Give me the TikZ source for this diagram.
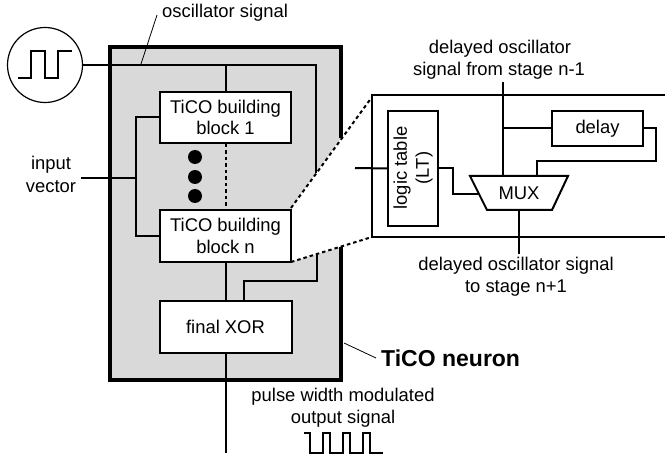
\documentclass[tikz,border=0pt]{standalone}
\usepackage{fontspec}
\setmainfont{Liberation Sans}
\begin{document}
\begin{tikzpicture}[x=1pt,y=-1pt,
  wire/.style={line width=2pt,line cap=butt,line join=miter},
  leader/.style={line width=0.8pt},
  dotline/.style={line width=2pt,dash pattern=on 3.5pt off 3pt},
  blockbox/.style={draw,fill=white,line width=2pt,inner sep=0pt,align=center,font=\lbl},
  lab/.style={inner sep=0pt,align=center,font=\lbl},
  dotmark/.style={circle,fill=black,inner sep=0pt,minimum size=14pt}]
\newcommand{\lbl}{\fontsize{18.4}{22}\selectfont}
\useasboundingbox (0,0) rectangle (665,457);
% neuron body
\coordinate (nTL) at (110,47);
\coordinate (nTR) at (341,47);
\coordinate (nRa) at (341,138);
\coordinate (nRb) at (341,247);
\coordinate (nBR) at (341,380);
\coordinate (nBL) at (110,380);
\coordinate (zA) at (291,208);
\coordinate (zB) at (291,262);
\coordinate (zC) at (372,97);
\coordinate (zD) at (372,237);
\fill[black!15] (nTL) -- (nTR) -- (nRa) -- (zA) -- (zB) -- (nRb) -- (nBR) -- (nBL) -- cycle;
\draw[line width=4.5pt,line join=miter] (nRa) -- (nTR) -- (nTL) -- (nBL) -- (nBR) -- (nRb);
% blocks
\node[blockbox,minimum width=131pt,minimum height=51pt] (b1) at (225.5,117.5) {TiCO building\\[-0.5pt]block 1};
\node[blockbox,minimum width=131pt,minimum height=52pt] (bn) at (225.5,236) {TiCO building\\[-0.5pt]block n};
\node[blockbox,minimum width=132pt,minimum height=52pt] (xor) at (225.5,327) {final XOR};
\node[dotmark] (d1) at (195,157) {};
\node[dotmark] (d2) at (195,177) {};
\node[dotmark] (d3) at (195,196) {};
% oscillator
\node[draw,circle,line width=1.2pt,minimum size=75pt,inner sep=0pt] (osc) at (45,65) {};
\draw[line width=1.5pt] (18,78) -- (31,78) -- (31,51) -- (45,51) -- (45,78) -- (58,78) -- (58,51) -- (72,51);
\coordinate (oscT) at (225.5,65);
\coordinate (oscC) at (316,65);
\coordinate (oscE) at (316,173);
\draw[wire] (osc.east) -- (oscC) -- (oscE);
\draw[wire] (oscT) -- (b1.north);
\draw[dotline] (b1.south) -- (bn.north);
% input vector
\node[lab] (inp) at (51,165) {input};
\node[lab] (vec) at (51,187) {vector};
\coordinate (inS) at (81,178);
\coordinate (inJ) at (136,178);
\draw[wire] (inS) -- (inJ);
\draw[wire] (b1.west) -| (inJ) |- (bn.west);
% wires to xor
\draw[wire] (bn.south) -- (xor.north);
\coordinate (xIn) at (244,301);
\coordinate (xUp) at (317,253);
\coordinate (xMid) at (317,281);
\coordinate (xMidL) at (244,281);
\draw[wire] (xUp) -- (xMid) -- (xMidL) -- (xIn);
\coordinate (out) at (225.5,453);
\draw[wire] (xor.south) -- (out);
% zoom lines
\draw[dotline] (zA) -- (zC);
\draw[dotline] (zB) -- (zD);
% detail box
\coordinate (rTR) at (665,95);
\coordinate (rBR) at (665,237);
\draw[line width=2pt] (rTR) -- (372,95) -- (372,237) -- (rBR);
\node[blockbox,minimum width=50pt,minimum height=115pt] (lt) at (413,168.5) {};
\node[lab,rotate=90] (ltt) at (413,168) {logic table\\(LT)};
\node[blockbox,minimum width=91pt,minimum height=35pt] (dl) at (597.5,128.5) {delay};
% mux
\coordinate (mTL) at (470,176);
\coordinate (mTR) at (568,176);
\coordinate (mBR) at (552,210);
\coordinate (mBL) at (487,210);
\draw[line width=2pt,fill=white,line join=miter] (mTL) -- (mTR) -- (mBR) -- (mBL) -- cycle;
\node[lab] (mux) at (519,193) {MUX};
% detail wires
\coordinate (ltIn) at (355,168);
\draw[wire] (ltIn) -- (lt.west);
\coordinate (mIn) at (478,194);
\draw[wire] (lt.east) -- (453,168.5) -- (453,194) -- (mIn);
\coordinate (top) at (503,82);
\coordinate (mT1) at (503,176);
\coordinate (br) at (503,128.5);
\draw[wire] (top) -- (mT1);
\draw[wire] (br) -- (dl.west);
\coordinate (mT2) at (537,176);
\draw[wire] (dl.east) -- (656,128.5) -- (656,161) -- (537,161) -- (mT2);
\coordinate (mB) at (519,210);
\coordinate (mOut) at (519,254);
\draw[wire] (mB) -- (mOut);
% labels
\node[lab] (l1) at (500,49) {delayed oscillator};
\node[lab] (l2) at (499,71) {signal from stage n-1};
\node[lab] (l3) at (516,266) {delayed oscillator signal};
\node[lab] (l4) at (516,288) {to stage n+1};
\node[lab,anchor=west] (l5) at (162,13) {oscillator signal};
\node[lab,font=\fontsize{23}{27}\selectfont\bfseries,anchor=west] (neu) at (381,358) {TiCO neuron};
\node[lab] (l6) at (343,397) {pulse width modulated};
\node[lab] (l7) at (343,419) {output signal};
% leaders
\coordinate (la1) at (141,64);
\coordinate (la2) at (157,15);
\draw[leader] (la1) -- (la2);
\coordinate (lb1) at (344,343);
\coordinate (lb2) at (376,358);
\draw[leader] (lb1) -- (lb2);
% output pulse
\draw[line width=1.2pt] (304,433) -- (310,433) -- (310,453) -- (323,453) -- (323,433) -- (330,433) -- (330,453) -- (343,453) -- (343,433) -- (350,433) -- (350,453) -- (363,453) -- (363,433) -- (370,433) -- (370,453) -- (383,453);
\end{tikzpicture}
\end{document}
